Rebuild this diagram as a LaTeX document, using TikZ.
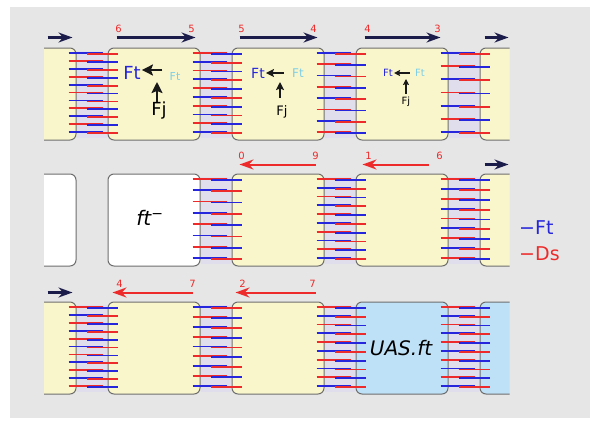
\documentclass[tikz,border=0pt]{standalone}
\usepackage{fontspec}
\setmainfont{DejaVu Sans}
\usetikzlibrary{arrows.meta, positioning, calc}

\definecolor{bggray}{HTML}{E6E6E6}
\definecolor{cream}{HTML}{FAF6CC}
\definecolor{skyfill}{HTML}{BFE1F7}
\definecolor{edge}{HTML}{6E6E6E}
\definecolor{gapfill}{HTML}{E0DEEC}
\definecolor{ftblue}{HTML}{2626DC}
\definecolor{dsred}{HTML}{EE2B2B}
\definecolor{navy}{HTML}{1C1C4A}
\definecolor{ftcyan}{HTML}{7ECFE6}

% wires across the gap between two cells
% #1 left cell, #2 right cell, #3 number of wires, #4 0: blue first, 1: red first
\newcommand{\junction}[4]{%
  \fill[gapfill] ($(#1.north east)+(0.5,3)$) rectangle ($(#2.south west)+(-0.5,-3)$);
  \pgfmathsetmacro{\wstep}{79/(#3-1)}
  \foreach \i in {1,...,#3}{
    \pgfmathsetmacro{\wy}{6+(\i-1)*\wstep}
    \pgfmathtruncatemacro{\wk}{mod(\i+#4,2)}
    \ifnum\wk=1 \colorlet{leftwire}{ftblue}\colorlet{rightwire}{dsred}%
    \else\colorlet{leftwire}{dsred}\colorlet{rightwire}{ftblue}\fi
    \draw[wire, leftwire] ($(#1.north east)+(-8,\wy-0.5)$) -- ($(#2.north west)+(-5,\wy-0.5)$);
    \draw[wire, rightwire] ($(#1.north east)+(10,\wy+0.5)$) -- ($(#2.north west)+(10,\wy+0.5)$);
  }%
}

\begin{document}
\begin{tikzpicture}[x=1pt, y=-1pt,
    cell/.style={rectangle, rounded corners=6pt, draw=edge, line width=1pt,
        minimum width=92pt, minimum height=92pt, inner sep=0pt, fill=cream},
    wire/.style={line width=1.8pt},
    fwd/.style={-{Stealth[length=14pt, width=10pt]}, line width=2.2pt, draw=navy},
    bwd/.style={-{Stealth[length=14pt, width=10pt]}, line width=2pt, draw=dsred},
    num/.style={font=\fontsize{10}{10}\selectfont, text=dsred, inner sep=0pt},
    txt/.style={font=\fontsize{#1}{#1}\selectfont, inner sep=0pt},
    pullA/.style={-{Stealth[length=11pt, width=11pt, inset=2pt]}, line width=2.2pt, draw=black!90},
    pullB/.style={-{Stealth[length=8pt, width=8pt, inset=1.5pt]}, line width=1.6pt, draw=black!90},
    pullC/.style={-{Stealth[length=6pt, width=6pt, inset=1pt]}, line width=1.1pt, draw=black!90}
]

    \useasboundingbox (0,0) rectangle (600,426);
    \fill[bggray] (10,7) rectangle (590,418);

    % --- Cells (partial ones cut at both sides) ---
    \begin{scope}
        \clip (44,0) rectangle (509.5,426);

        % Row 1
        \node[cell] (r1c1) at (154,94) {};
        \node[cell, left=31pt of r1c1] (r1c0) {};
        \node[cell, right=31pt of r1c1] (r1c2) {};
        \node[cell, right=31pt of r1c2] (r1c3) {};
        \node[cell, right=31pt of r1c3] (r1c4) {};

        % Row 2
        \node[cell, fill=white] (r2c1) at (154,220) {};
        \node[cell, fill=white, left=31pt of r2c1] (r2c0) {};
        \node[cell, right=31pt of r2c1] (r2c2) {};
        \node[cell, right=31pt of r2c2] (r2c3) {};
        \node[cell, right=31pt of r2c3] (r2c4) {};

        % Row 3
        \node[cell] (r3c1) at (154,348) {};
        \node[cell, left=31pt of r3c1] (r3c0) {};
        \node[cell, right=31pt of r3c1] (r3c2) {};
        \node[cell, fill=skyfill, right=31pt of r3c2] (r3c3) {};
        \node[cell, fill=skyfill, right=31pt of r3c3] (r3c4) {};

        % Wires
        \junction{r1c0}{r1c1}{11}{0}
        \junction{r1c1}{r1c2}{10}{1}
        \junction{r1c2}{r1c3}{8}{0}
        \junction{r1c3}{r1c4}{7}{0}

        \junction{r2c1}{r2c2}{8}{1}
        \junction{r2c2}{r2c3}{10}{1}
        \junction{r2c3}{r2c4}{9}{1}

        \junction{r3c0}{r3c1}{11}{1}
        \junction{r3c1}{r3c2}{9}{0}
        \junction{r3c2}{r3c3}{10}{1}
        \junction{r3c3}{r3c4}{10}{1}
    \end{scope}

    % --- Row 1 arrows ---
    \draw[fwd] ($(r1c0.north east)+(-29,-10)$) -- ($(r1c0.north east)+(-4,-10)$);
    \draw[fwd] ($(r1c1.north west)+(9,-10)$) -- ($(r1c1.north east)+(-5,-10)$)
        node[num, pos=0, xshift=2pt, yshift=9pt] (n1a) {6}
        node[num, pos=1, xshift=-4pt, yshift=9pt] (n1b) {5};
    \draw[fwd] ($(r1c2.north west)+(8,-10)$) -- ($(r1c2.north east)+(-7,-10)$)
        node[num, pos=0, xshift=2pt, yshift=9pt] (n2a) {5}
        node[num, pos=1, xshift=-4pt, yshift=9pt] (n2b) {4};
    \draw[fwd] ($(r1c3.north west)+(9,-10)$) -- ($(r1c3.north east)+(-8,-10)$)
        node[num, pos=0, xshift=3pt, yshift=9pt] (n3a) {4}
        node[num, pos=1, xshift=-3pt, yshift=9pt] (n3b) {3};
    \draw[fwd] ($(r1c4.north west)+(5,-10)$) -- ($(r1c4.north west)+(29,-10)$);

    % --- Row 2 arrows ---
    \draw[bwd] ($(r2c2.north east)+(-9,-9)$) -- ($(r2c2.north west)+(8,-9)$)
        node[num, pos=1, xshift=2pt, yshift=9pt] (n4a) {0}
        node[num, pos=0, xshift=0pt, yshift=9pt] (n4b) {9};
    \draw[bwd] ($(r2c3.north east)+(-20,-9)$) -- ($(r2c3.north west)+(7,-9)$)
        node[num, pos=1, xshift=6pt, yshift=9pt] (n5a) {1}
        node[num, pos=0, xshift=11pt, yshift=9pt] (n5b) {6};
    \draw[fwd] ($(r2c4.north west)+(5,-9)$) -- ($(r2c4.north west)+(29,-9)$);

    % --- Row 3 arrows ---
    \draw[fwd] ($(r3c0.north east)+(-29,-9)$) -- ($(r3c0.north east)+(-4,-9)$);
    \draw[bwd] ($(r3c1.north east)+(-8,-9)$) -- ($(r3c1.north west)+(5,-9)$)
        node[num, pos=1, xshift=7pt, yshift=9pt] (n6a) {4}
        node[num, pos=0, xshift=0pt, yshift=9pt] (n6b) {7};
    \draw[bwd] ($(r3c2.north east)+(-9,-9)$) -- ($(r3c2.north west)+(4,-9)$)
        node[num, pos=1, xshift=7pt, yshift=9pt] (n7a) {2}
        node[num, pos=0, xshift=-3pt, yshift=9pt] (n7b) {7};

    % --- Forces inside the row 1 cells ---
    \node[txt=18, text=ftblue, inner sep=1pt] (ft1) at ($(r1c1)+(-22,-21)$) {Ft};
    \node[txt=11, text=ftcyan, inner sep=1pt] (ftc1) at ($(r1c1)+(21,-18)$) {Ft};
    \node[txt=18] (fj1) at ($(r1c1)+(5,17)$) {Fj};
    \coordinate (tip1) at (157,82);
    \draw[pullA, shorten <=6pt] ([yshift=3pt]ftc1.west |- ft1) -- ([yshift=3pt]ft1.east);
    \draw[pullA] (tip1 |- fj1.north) -- (tip1);

    \node[txt=14, text=ftblue, inner sep=1pt] (ft2) at ($(r1c2)+(-20,-21)$) {Ft};
    \node[txt=12, text=ftcyan, inner sep=1pt] (ftc2) at ($(r1c2)+(20,-21)$) {Ft};
    \node[txt=13] (fj2) at ($(r1c2)+(4,18)$) {Fj};
    \coordinate (tip2) at (280,82);
    \draw[pullB, shorten <=7pt] (ftc2.west) -- (ft2.east);
    \draw[pullB, shorten <=8pt] (tip2 |- fj2.north) -- (tip2);

    \node[txt=10, text=ftblue, inner sep=1pt] (ft3) at ($(r1c3)+(-14,-21)$) {Ft};
    \node[txt=10, text=ftcyan, inner sep=1pt] (ftc3) at ($(r1c3)+(18,-21)$) {Ft};
    \node[txt=10] (fj3) at ($(r1c3)+(4,8)$) {Fj};
    \coordinate (tip3) at (406,79);
    \draw[pullC, shorten <=4pt] (ftc3.west) -- (ft3.east);
    \draw[pullC, shorten <=3pt] (tip3 |- fj3.north) -- (tip3);

    % --- Cell labels ---
    \node[txt=20, font=\fontsize{20}{20}\selectfont\itshape] (ftm) at ($(r2c1)+(-4,-2)$) {ft\textsuperscript{\normalfont −}};
    \node[txt=20, font=\fontsize{20}{20}\selectfont\itshape] (uas) at ($(r3c3)+(-1,0)$) {UAS.ft};

    % --- Legend ---
    \node[txt=19, text=ftblue, anchor=west] (legft) at (519,228) {−Ft};
    \node[txt=19, text=dsred, anchor=west] (legds) at (519,254) {−Ds};

\end{tikzpicture}
\end{document}
